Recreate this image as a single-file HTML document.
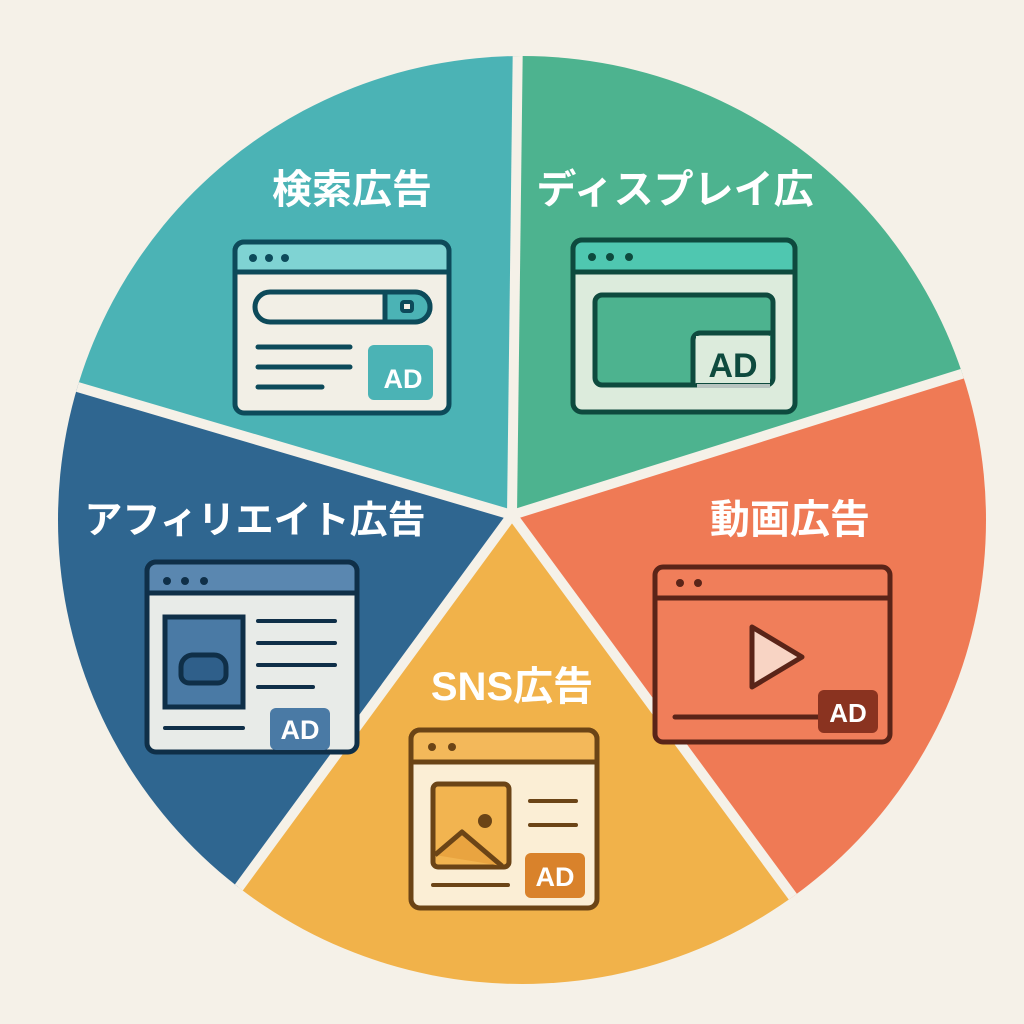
<!DOCTYPE html>
<html><head><meta charset="utf-8"><style>
html,body{margin:0;padding:0;background:#f5f1e8;width:1024px;height:1024px;overflow:hidden;}
svg{display:block}
text{font-family:"Liberation Sans","Noto Sans CJK JP",sans-serif;font-weight:bold;}
</style></head><body>
<svg width="1024" height="1024" viewBox="0 0 1024 1024" xmlns="http://www.w3.org/2000/svg">
<rect width="1024" height="1024" fill="#f5f1e8"/>
<defs><clipPath id="c"><circle cx="522" cy="520" r="464"/></clipPath></defs>
<g clip-path="url(#c)">
<polygon points="512,515 517,0 0,0 0,357 70,380" fill="#4bb3b5"/>
<polygon points="512,515 517,0 1024,0 1024,355 950,378" fill="#4db38f"/>
<polygon points="512,515 950,378 1024,355 1024,1024 840,1024 785,885" fill="#ef7a55"/>
<polygon points="512,515 785,885 840,1024 140,1024 240,885" fill="#f1b24a"/>
<polygon points="512,515 240,885 140,1024 0,1024 0,357 70,380" fill="#2f6690"/>
<g stroke="#f5f1e8" stroke-width="10" stroke-linecap="butt">
<line x1="512" y1="515" x2="518" y2="30"/>
<line x1="512" y1="515" x2="990" y2="365"/>
<line x1="512" y1="515" x2="810" y2="920"/>
<line x1="512" y1="515" x2="215" y2="920"/>
<line x1="512" y1="515" x2="30" y2="373"/>
</g>
</g>
<g fill="#fff" font-size="40" text-anchor="middle">
<text x="352" y="203">検索広告</text>
<text x="675" y="203">ディスプレイ広</text>
<text x="790" y="533">動画広告</text>
<text x="255" y="533" font-size="38">アフィリエイト広告</text>
<text x="512" y="700">SNS広告</text>
</g>
<g stroke="#0d4a5a" stroke-width="5">
<rect x="235" y="242" width="214" height="171" rx="9" fill="#f2efe6"/>
<path d="M235,272 V251 a9,9 0 0 1 9,-9 H440 a9,9 0 0 1 9,9 V272 Z" fill="#7fd3d3"/>
<rect x="255" y="292" width="175" height="30" rx="15" fill="#f2efe6"/>
<path d="M385,292 H415 a15,15 0 0 1 0,30 H385 Z" fill="#4bb3b5"/>
<rect x="402" y="302" width="10" height="9" rx="2" fill="#f2efe6" stroke-width="4"/>
<g stroke-linecap="round" stroke-width="5"><line x1="258" y1="347" x2="350" y2="347"/><line x1="258" y1="367" x2="350" y2="367"/><line x1="258" y1="387" x2="322" y2="387"/></g>
<rect x="368" y="345" width="65" height="55" rx="6" fill="#4bb3b5" stroke="none"/>
</g>
<g fill="#0d4a5a"><circle cx="253" cy="258" r="4"/><circle cx="269" cy="258" r="4"/><circle cx="285" cy="258" r="4"/></g>
<text x="403" y="388" fill="#fff" font-size="27" text-anchor="middle">AD</text>
<g stroke="#0e4a3e" stroke-width="5">
<rect x="573" y="240" width="222" height="172" rx="9" fill="#dcebdc"/>
<path d="M573,272 V249 a9,9 0 0 1 9,-9 H786 a9,9 0 0 1 9,9 V272 Z" fill="#4fc7b0"/>
<rect x="595" y="295" width="178" height="90" rx="7" fill="#4db38f"/>
<path d="M693,385 V340 a7,7 0 0 1 7,-7 H773" fill="#dcebdc"/>
</g>
<rect x="696" y="336" width="74" height="47" fill="#dcebdc"/>
<line x1="697" y1="386" x2="770" y2="386" stroke="#b8c4c0" stroke-width="4"/>
<g fill="#0e4a3e"><circle cx="592" cy="257" r="4"/><circle cx="610" cy="257" r="4"/><circle cx="629" cy="257" r="4"/></g>
<text x="733" y="377" fill="#0e4a3e" font-size="34" text-anchor="middle">AD</text>
<g stroke="#5a2418" stroke-width="5">
<rect x="655" y="567" width="235" height="175" rx="8" fill="#f07e5a"/>
<line x1="655" y1="598" x2="890" y2="598"/>
<polygon points="752,627 802,657 752,687" fill="#f8d4c4" stroke-linejoin="round"/>
<line x1="675" y1="717" x2="820" y2="717" stroke-linecap="round"/>
</g>
<g fill="#5a2418"><circle cx="680" cy="583" r="4"/><circle cx="698" cy="583" r="4"/></g>
<rect x="818" y="690" width="60" height="43" rx="6" fill="#8a3320"/>
<text x="848" y="722" fill="#fff" font-size="26" text-anchor="middle">AD</text>
<g stroke="#0f2f48" stroke-width="5">
<rect x="147" y="562" width="210" height="190" rx="9" fill="#e8ebe8"/>
<path d="M147,593 V571 a9,9 0 0 1 9,-9 H348 a9,9 0 0 1 9,9 V593 Z" fill="#5a87b0"/>
<rect x="165" y="617" width="78" height="90" fill="#4a7aa5"/>
<path d="M192,655 H214 a12,12 0 0 1 12,12 V675 a8,8 0 0 1 -8,8 H189 a8,8 0 0 1 -8,-8 V667 a12,12 0 0 1 11,-12Z" fill="#2f5f8a"/>
<g stroke-linecap="round" stroke-width="4"><line x1="258" y1="621" x2="335" y2="621"/><line x1="258" y1="643" x2="335" y2="643"/><line x1="258" y1="665" x2="335" y2="665"/><line x1="258" y1="687" x2="313" y2="687"/><line x1="165" y1="728" x2="243" y2="728"/></g>
</g>
<g fill="#0f2f48"><circle cx="167" cy="581" r="4"/><circle cx="185" cy="581" r="4"/><circle cx="204" cy="581" r="4"/></g>
<rect x="270" y="708" width="60" height="42" rx="6" fill="#4a7aa5"/>
<text x="300" y="739" fill="#fff" font-size="27" text-anchor="middle">AD</text>
<g stroke="#6b4416" stroke-width="5">
<rect x="411" y="730" width="186" height="178" rx="9" fill="#fbeed5"/>
<path d="M411,762 V739 a9,9 0 0 1 9,-9 H588 a9,9 0 0 1 9,9 V762 Z" fill="#f3b85a"/>
<rect x="433" y="784" width="76" height="83" rx="5" fill="#f2b450"/>
<path d="M435,855 L462,832 L502,866" fill="#e9a440" stroke-linejoin="round"/>
<g stroke-linecap="round" stroke-width="4"><line x1="530" y1="801" x2="576" y2="801"/><line x1="530" y1="825" x2="576" y2="825"/><line x1="433" y1="885" x2="508" y2="885"/></g>
</g>
<circle cx="485" cy="821" r="7" fill="#6b4416"/>
<g fill="#6b4416"><circle cx="432" cy="747" r="4"/><circle cx="452" cy="747" r="4"/></g>
<rect x="525" y="853" width="60" height="45" rx="6" fill="#d9822b"/>
<text x="555" y="886" fill="#fff" font-size="27" text-anchor="middle">AD</text>
</svg>
</body></html>
